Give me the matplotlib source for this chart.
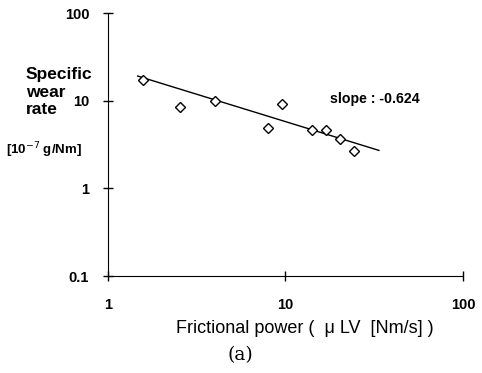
import numpy as np
import matplotlib
matplotlib.use("Agg")
import matplotlib.pyplot as plt

# frictional power [Nm/s] and specific wear rate [1e-7 g/Nm]
power = [1.58, 2.53, 3.99, 7.94, 9.59, 14.1, 16.9, 20.2, 24.2]
wear = [17.2, 8.55, 10.0, 4.93, 9.25, 4.68, 4.68, 3.67, 2.65]

# power-law fit shown as a line
fit_slope = -0.624
fit_coef = 24.3
fit_range = [1.47, 33.6]

xticks = [1, 10, 100]
xticklabels = ["1", "10", "100"]
yticks = [0.1, 1, 10, 100]
yticklabels = ["0.1", "1", "10", "100"]
ylabel_lines = ["Specific", "wear", "rate"]

plt.rcParams['font.family'] = ['Liberation Sans', 'DejaVu Sans']

fig = plt.figure(figsize=(4.82, 3.73), dpi=100, facecolor='white')
ax = fig.add_axes([0.224, 0.26, 0.7366, 0.705])

xf = np.array(fit_range)
ax.plot(xf, fit_coef * xf ** fit_slope, color='black', linewidth=1.0)
ax.plot(power, wear, linestyle='none', marker='D', markersize=5.4,
        markerfacecolor='white', markeredgecolor='black', markeredgewidth=1.0)

ax.set_xscale('log')
ax.set_yscale('log')
ax.set_xlim(1, 100)
ax.set_ylim(0.1, 100)
ax.set_xticks(xticks)
ax.set_xticklabels(xticklabels)
ax.set_yticks(yticks)
ax.set_yticklabels(yticklabels)
ax.minorticks_off()
ax.tick_params(direction='inout', length=7, width=1, labelsize=10.5)
ax.tick_params(axis='x', pad=12)
ax.tick_params(axis='y', pad=10)
for lab in ax.get_xticklabels() + ax.get_yticklabels():
    lab.set_fontweight('bold')
ax.spines['top'].set_visible(False)
ax.spines['right'].set_visible(False)

ax.text(0.625, 0.673, "slope : -0.624", transform=ax.transAxes, fontsize=10.2,
        fontweight='bold', va='center', ha='left')

for i, line in enumerate(ylabel_lines):
    fig.text(0.054, 0.80 - i * 0.047, line, ha='left', va='center',
             fontsize=12.5, fontweight='bold')
fig.text(0.012, 0.598, "[10$^{-7}$ g/Nm]", ha='left', va='center', fontsize=9.5,
         fontweight='bold')
fig.text(0.633, 0.12, "Frictional power (  \u03bc LV  [Nm/s] )", ha='center',
         va='center', fontsize=13)
fig.text(0.498, 0.048, "(a)", ha='center', va='center', fontsize=13.5,
         family='DejaVu Serif')

fig.savefig("out.png", dpi=100)
